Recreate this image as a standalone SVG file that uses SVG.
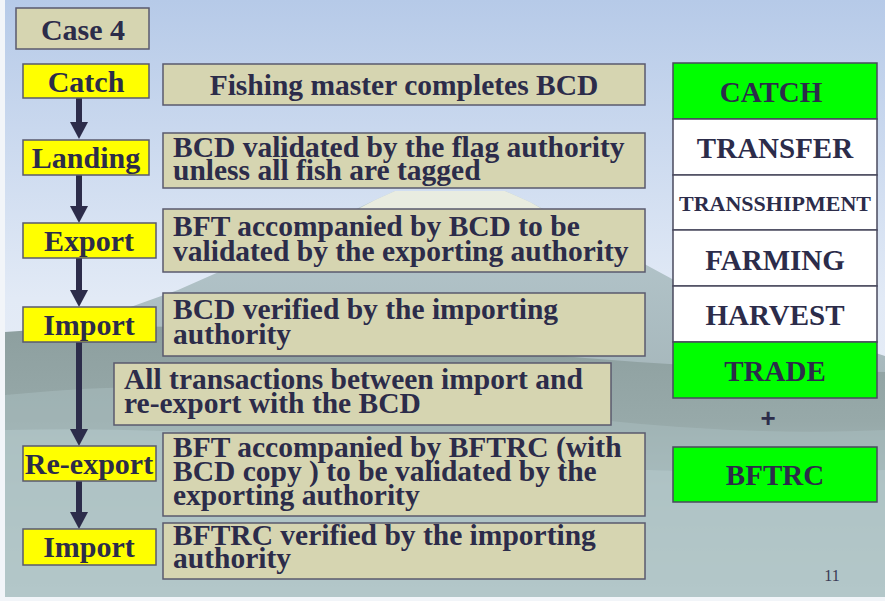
<svg xmlns="http://www.w3.org/2000/svg" width="885" height="601" viewBox="0 0 885 601">
<style>
text{font-family:"Liberation Serif","Times New Roman",serif;font-weight:bold;fill:#2c2c4a}
.k{fill:#d6d5b1;stroke:#5a5a6e;stroke-width:1.5}
.y{fill:#ffff00;stroke:#5a5a6e;stroke-width:1.5}
.g{fill:#00ff00;stroke:#4a4a5e;stroke-width:1.5}
.w{fill:#ffffff;stroke:#4a4a5e;stroke-width:1.5}
.lab{font-size:30px;text-anchor:middle}
.d{font-size:29.5px}
.c{font-size:29px;text-anchor:middle}
.cs{font-size:22px;text-anchor:middle}
.ar{stroke:#2c2c4a;stroke-width:6;fill:none}
.ah{fill:#2c2c4a}
</style>
<defs>
<linearGradient id="sky" x1="0" y1="0" x2="0" y2="1">
<stop offset="0" stop-color="#b6cae8"/>
<stop offset="0.5" stop-color="#e2eaf6"/>
<stop offset="1" stop-color="#eef2f8"/>
</linearGradient>
<linearGradient id="mtn" x1="0" y1="0" x2="0" y2="1">
<stop offset="0" stop-color="#b7c9cf"/>
<stop offset="0.5" stop-color="#a5b6ba"/>
<stop offset="1" stop-color="#94a5a5"/>
</linearGradient>
<linearGradient id="ground" x1="0" y1="0" x2="0" y2="1">
<stop offset="0" stop-color="#8d9f9f"/>
<stop offset="0.35" stop-color="#97a9a9"/>
<stop offset="0.7" stop-color="#b0c4c6"/>
<stop offset="1" stop-color="#c2d6d8"/>
</linearGradient>
</defs>
<rect x="0" y="0" width="885" height="601" fill="#f2f5f9"/>
<g id="background">
<rect x="5" y="0" width="880" height="597" fill="url(#sky)"/>
<path d="M5 352 L178 290 L300 236 L375 200 L395 191 L505 191 L530 202 L600 240 L674 280 L780 322 L885 356 L885 597 L5 597 Z" fill="url(#mtn)"/>
<path d="M360 208 L375 200 L395 191 L505 191 L530 202 L565 222 L545 226 L525 216 L512 238 L498 214 L482 246 L470 220 L455 250 L440 222 L425 244 L412 226 L392 246 L385 228 L340 252 Z" fill="#eef0e2" opacity="0.9"/>
<path d="M5 332 Q120 322 260 330 Q400 338 520 352 Q700 370 885 372 L885 597 L5 597 Z" fill="url(#ground)"/>
<path d="M5 395 Q150 380 300 392 Q450 404 600 420 Q750 436 885 430 L885 597 L5 597 Z" fill="#a7bbbc" opacity="0.6"/>
<path d="M5 430 Q200 425 400 450 Q600 478 885 470 L885 597 L5 597 Z" fill="#b4c8ca" opacity="0.6"/>
</g>
<g id="connectors">
<line class="ar" x1="79" y1="98" x2="79" y2="124"/>
<polygon class="ah" points="70,122 88,122 79,139"/>
<line class="ar" x1="79" y1="175" x2="79" y2="208"/>
<polygon class="ah" points="70,206 88,206 79,223"/>
<line class="ar" x1="79" y1="258" x2="79" y2="292"/>
<polygon class="ah" points="70,290 88,290 79,307"/>
<line class="ar" x1="79" y1="342" x2="79" y2="431"/>
<polygon class="ah" points="70,429 88,429 79,446"/>
<line class="ar" x1="79" y1="481" x2="79" y2="514"/>
<polygon class="ah" points="70,512 88,512 79,529"/>
</g>
<g id="case4"><rect class="k" x="16" y="8" width="133" height="41"/><text class="lab" x="83" y="40">Case 4</text></g>
<g id="catch"><rect class="y" x="23" y="64" width="126" height="34"/><text class="lab" x="86" y="92">Catch</text></g>
<g id="landing"><rect class="y" x="23" y="140" width="126" height="35"/><text class="lab" x="86" y="168">Landing</text></g>
<g id="export"><rect class="y" x="23" y="223" width="133" height="35"/><text class="lab" x="89" y="251">Export</text></g>
<g id="import1"><rect class="y" x="23" y="307" width="133" height="35"/><text class="lab" x="89" y="335">Import</text></g>
<g id="reexport"><rect class="y" x="23" y="446" width="133" height="35"/><text class="lab" x="89" y="474">Re-export</text></g>
<g id="import2"><rect class="y" x="23" y="529" width="133" height="36"/><text class="lab" x="89" y="557">Import</text></g>
<g id="desc-catch"><rect class="k" x="163" y="64" width="482" height="41"/><text class="d" x="404" y="95" text-anchor="middle">Fishing master completes BCD</text></g>
<g id="desc-landing"><rect class="k" x="163" y="133" width="482" height="55"/><text class="d" x="173" y="157">BCD validated by the flag authority</text><text class="d" x="173" y="180">unless all fish are tagged</text></g>
<g id="desc-export"><rect class="k" x="163" y="209" width="482" height="63"/><text class="d" x="173" y="236">BFT accompanied by BCD to be</text><text class="d" x="173" y="261">validated by the exporting authority</text></g>
<g id="desc-import1"><rect class="k" x="163" y="293" width="482" height="63"/><text class="d" x="173" y="319">BCD verified by the importing</text><text class="d" x="173" y="344">authority</text></g>
<g id="desc-transactions"><rect class="k" x="114" y="363" width="497" height="62"/><text class="d" x="124" y="389">All transactions between import and</text><text class="d" x="124" y="413">re-export with the BCD</text></g>
<g id="desc-reexport"><rect class="k" x="163" y="433" width="482" height="83"/><text class="d" x="173" y="457">BFT accompanied by BFTRC (with</text><text class="d" x="173" y="481">BCD copy ) to be validated by the</text><text class="d" x="173" y="505">exporting authority</text></g>
<g id="desc-import2"><rect class="k" x="163" y="523" width="482" height="56"/><text class="d" x="173" y="545">BFTRC verified by the importing</text><text class="d" x="173" y="568">authority</text></g>
<g id="r-catch"><rect class="g" x="673" y="63" width="204" height="56"/><text class="c" x="771" y="102">CATCH</text></g>
<g id="r-transfer"><rect class="w" x="673" y="119" width="204" height="56"/><text class="c" x="775" y="158">TRANSFER</text></g>
<g id="r-transshipment"><rect class="w" x="673" y="175" width="204" height="55"/><text class="cs" x="775" y="211">TRANSSHIPMENT</text></g>
<g id="r-farming"><rect class="w" x="673" y="230" width="204" height="56"/><text class="c" x="775" y="270">FARMING</text></g>
<g id="r-harvest"><rect class="w" x="673" y="286" width="204" height="56"/><text class="c" x="775" y="325">HARVEST</text></g>
<g id="r-trade"><rect class="g" x="673" y="342" width="204" height="56"/><text class="c" x="775" y="381">TRADE</text></g>
<g id="plus"><text x="768" y="427" font-size="26" text-anchor="middle" style="font-family:'Liberation Sans',Arial,sans-serif">+</text></g>
<g id="r-bftrc"><rect class="g" x="673" y="447" width="204" height="55"/><text class="c" x="775" y="485">BFTRC</text></g>
<text x="832" y="581" font-size="16" text-anchor="middle" style="font-weight:normal;fill:#3a3a55">11</text>
</svg>
